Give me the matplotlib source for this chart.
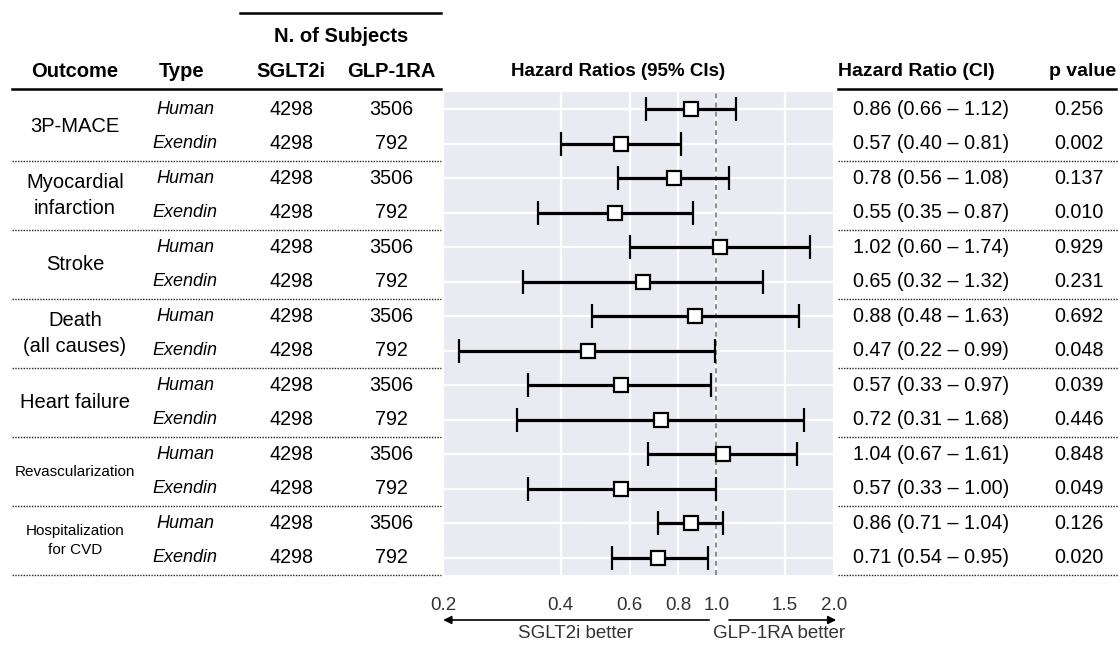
import matplotlib.pyplot as plt
import matplotlib.transforms as mtransforms
from matplotlib.ticker import NullLocator

plt.rcParams['font.family'] = ['Liberation Sans', 'DejaVu Sans']

# --- data ---
outcomes = ['3P-MACE', 'Myocardial\ninfarction', 'Stroke', 'Death\n(all causes)',
            'Heart failure', 'Revascularization', 'Hospitalization\nfor CVD']
types = ['Human', 'Exendin'] * 7
n_sglt2i = [4298] * 14
n_glp1ra = [3506, 792] * 7
hr = [0.86, 0.57, 0.78, 0.55, 1.02, 0.65, 0.88, 0.47, 0.57, 0.72, 1.04, 0.57, 0.86, 0.71]
ci_lo = [0.66, 0.40, 0.56, 0.35, 0.60, 0.32, 0.48, 0.22, 0.33, 0.31, 0.67, 0.33, 0.71, 0.54]
ci_hi = [1.12, 0.81, 1.08, 0.87, 1.74, 1.32, 1.63, 0.99, 0.97, 1.68, 1.61, 1.00, 1.04, 0.95]
p_values = [0.256, 0.002, 0.137, 0.010, 0.929, 0.231, 0.692, 0.048, 0.039, 0.446,
            0.848, 0.049, 0.126, 0.020]
x_ticks = [0.2, 0.4, 0.6, 0.8, 1.0, 1.5, 2.0]
x_ticklabels = ['0.2', '0.4', '0.6', '0.8', '1.0', '1.5', '2.0']

W, H = 1120, 645
fig = plt.figure(figsize=(W / 100, H / 100), dpi=100)
ax = fig.add_axes([443 / W, 1 - 575 / H, (834 - 443) / W, (575 - 92) / H])

rows = list(range(len(hr)))
ax.set_facecolor('#EAEAF2')
ax.set_xscale('log')
ax.set_xlim(0.2, 2.0)
ax.set_ylim(13.5, -0.5)
for s in ax.spines.values():
    s.set_visible(False)

# grid (white, like seaborn darkgrid)
for t in x_ticks:
    ax.axvline(t, color='white', lw=1.6, zorder=0)
for r in rows:
    ax.axhline(r, color='white', lw=1.6, zorder=0)
ax.axvline(1.0, color='#777777', lw=1.2, ls=(0, (3, 2.5)), zorder=1)

xerr = [[h - l for h, l in zip(hr, ci_lo)], [u - h for h, u in zip(hr, ci_hi)]]
ax.errorbar(hr, rows, xerr=xerr, fmt='s', color='black', ecolor='black',
            elinewidth=2.3, capsize=8.5, capthick=2.3, markersize=10.5,
            markerfacecolor='white', markeredgecolor='black', markeredgewidth=1.6,
            zorder=3)

ax.set_yticks([])
ax.set_xticks(x_ticks)
ax.set_xticklabels(x_ticklabels, fontsize=13.5, color='#333333')
ax.xaxis.set_minor_locator(NullLocator())
ax.tick_params(axis='x', length=0, pad=16)

# --- table text ---
tr = mtransforms.blended_transform_factory(fig.transFigure, ax.transData)


def px(x):
    return x / W


hdr_y = -1.1
hfs = 14.5
for x, lab, f in [(75, 'Outcome', hfs), (182, 'Type', hfs), (291, 'SGLT2i', hfs),
                  (391, 'GLP-1RA', hfs), (618, 'Hazard Ratios (95% CIs)', 13.5),
                  (916, 'Hazard Ratio (CI)', 14), (1083, 'p value', 14)]:
    ax.text(px(x), hdr_y, lab, transform=tr, ha='center', va='center',
            fontsize=f, fontweight='bold', clip_on=False)
ax.text(px(341), -2.12, 'N. of Subjects', transform=tr, ha='center', va='center',
        fontsize=hfs, fontweight='bold', clip_on=False)
ax.plot([px(240), px(441)], [-2.78, -2.78], transform=tr, color='black', lw=1.8, clip_on=False)
ax.plot([px(12), px(441)], [-0.6, -0.6], transform=tr, color='black', lw=1.8, clip_on=False)
ax.plot([px(838), px(1116)], [-0.6, -0.6], transform=tr, color='black', lw=1.8, clip_on=False)

label_sizes = [14.5, 14.5, 14.5, 14.5, 14.5, 11, 11]
for g, name in enumerate(outcomes):
    ax.text(px(75), 2 * g + 0.5, name, transform=tr, ha='center', va='center',
            multialignment='center', fontsize=label_sizes[g],
            linespacing=1.5 if label_sizes[g] > 12 else 1.45, clip_on=False)
    sep = 2 * g + 1.5
    for x0, x1 in [(12, 441), (838, 1118)]:
        ax.plot([px(x0), px(x1)], [sep, sep], transform=tr, color='#222222', lw=1.0,
                ls=(0, (1, 1)), clip_on=False)

fs = 14.2
for r in rows:
    ax.text(px(185), r, types[r], transform=tr, ha='center', va='center',
            fontsize=13, style='italic', clip_on=False)
    ax.text(px(291), r, str(n_sglt2i[r]), transform=tr, ha='center', va='center',
            fontsize=fs, clip_on=False)
    ax.text(px(391), r, str(n_glp1ra[r]), transform=tr, ha='center', va='center',
            fontsize=fs, clip_on=False)
    ax.text(px(931), r, f'{hr[r]:.2f} ({ci_lo[r]:.2f} – {ci_hi[r]:.2f})', transform=tr,
            ha='center', va='center', fontsize=fs, clip_on=False)
    ax.text(px(1079), r, f'{p_values[r]:.3f}', transform=tr, ha='center', va='center',
            fontsize=fs, clip_on=False)

# --- direction arrows under the axis ---
ta = mtransforms.blended_transform_factory(ax.transData, fig.transFigure)
ay = 1 - 620 / H
ax.annotate('', xy=(0.197, ay), xytext=(0.975, ay), xycoords=ta, textcoords=ta,
            arrowprops=dict(arrowstyle='-|>', color='black', lw=1.2, mutation_scale=12))
ax.annotate('', xy=(2.06, ay), xytext=(1.06, ay), xycoords=ta, textcoords=ta,
            arrowprops=dict(arrowstyle='-|>', color='black', lw=1.2, mutation_scale=12))
ax.text(0.437, 1 - 634 / H, 'SGLT2i better', transform=ta, ha='center', va='center',
        fontsize=13.5, color='#333333')
ax.text(1.45, 1 - 634 / H, 'GLP-1RA better', transform=ta, ha='center', va='center',
        fontsize=13.5, color='#333333')

fig.savefig('out.png', dpi=100)
